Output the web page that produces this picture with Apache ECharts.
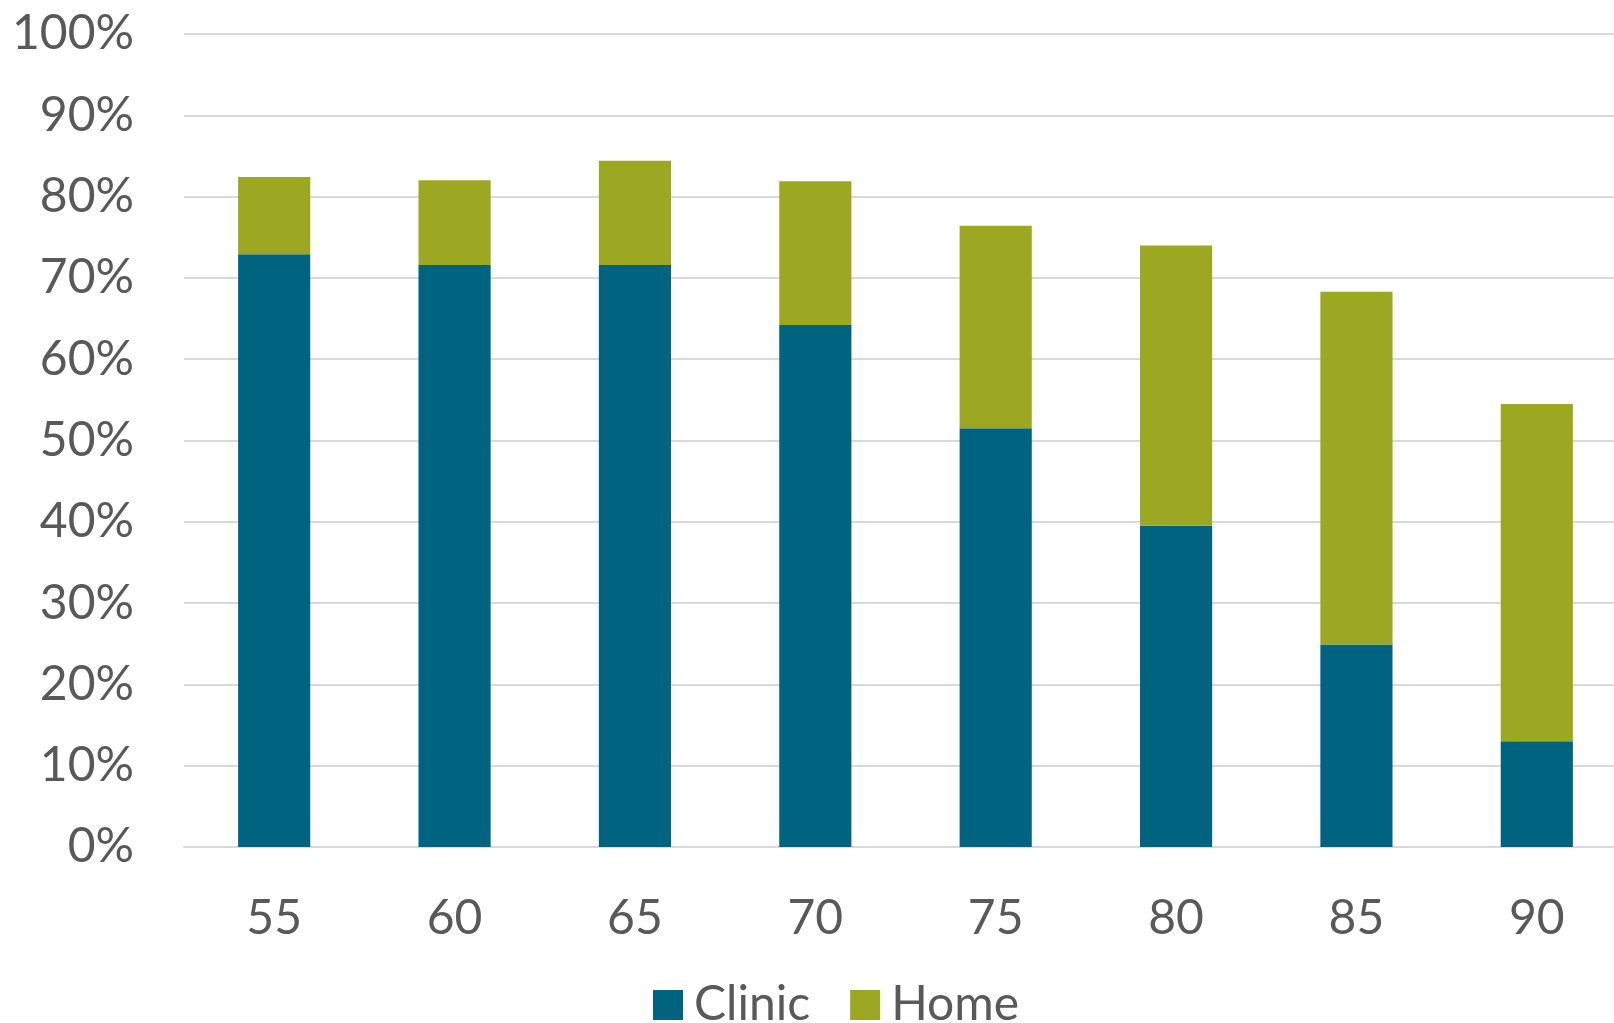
<!DOCTYPE html>
<html>
<head>
<meta charset="utf-8">
<script src="https://cdn.jsdelivr.net/npm/echarts@6/dist/echarts.min.js"></script>
<style>
html,body{margin:0;padding:0;background:#fff;}
#chart{width:1614px;height:1023px;}
</style>
</head>
<body>
<div id="chart"></div>
<script>
const categories = ['55', '60', '65', '70', '75', '80', '85', '90'];
const clinic = [72.9, 71.6, 71.6, 64.2, 51.5, 39.5, 24.9, 13.0];
const home = [9.5, 10.4, 12.8, 17.7, 24.9, 34.5, 43.4, 41.5];
const yTicks = { min: 0, max: 100, interval: 10 };

const textColor = '#595959';
const fontFamily = 'Lato, "Open Sans", sans-serif';

const chart = echarts.init(document.getElementById('chart'));
chart.setOption({
  animation: false,
  backgroundColor: '#ffffff',
  textStyle: { fontFamily: fontFamily },
  grid: { left: 184, top: 34, width: 1443, height: 813, containLabel: false, outerBoundsMode: 'none' },
  legend: {
    data: ['Clinic', 'Home'],
    bottom: -11,
    left: 648,
    itemWidth: 30,
    itemHeight: 30,
    itemGap: 40,
    icon: 'rect',
    textStyle: { color: textColor, fontSize: 48, fontFamily: fontFamily, padding: [0, 0, 0, 6] }
  },
  xAxis: {
    type: 'category',
    data: categories,
    axisLine: { lineStyle: { color: '#D9D9D9', width: 2 } },
    axisTick: { show: false },
    axisLabel: { color: textColor, fontSize: 48, margin: 48, fontFamily: fontFamily }
  },
  yAxis: {
    type: 'value',
    min: yTicks.min,
    max: yTicks.max,
    interval: yTicks.interval,
    axisLine: { show: false },
    axisTick: { show: false },
    axisLabel: { color: textColor, fontSize: 48, margin: 50, formatter: '{value}%', fontFamily: fontFamily },
    splitLine: { lineStyle: { color: '#D9D9D9', width: 2 } }
  },
  series: [
    {
      name: 'Clinic',
      type: 'bar',
      stack: 'total',
      barWidth: '40%',
      data: clinic,
      itemStyle: { color: '#00637F' }
    },
    {
      name: 'Home',
      type: 'bar',
      stack: 'total',
      barWidth: '40%',
      data: home,
      itemStyle: { color: '#9CA822' }
    }
  ]
});
</script>
</body>
</html>
